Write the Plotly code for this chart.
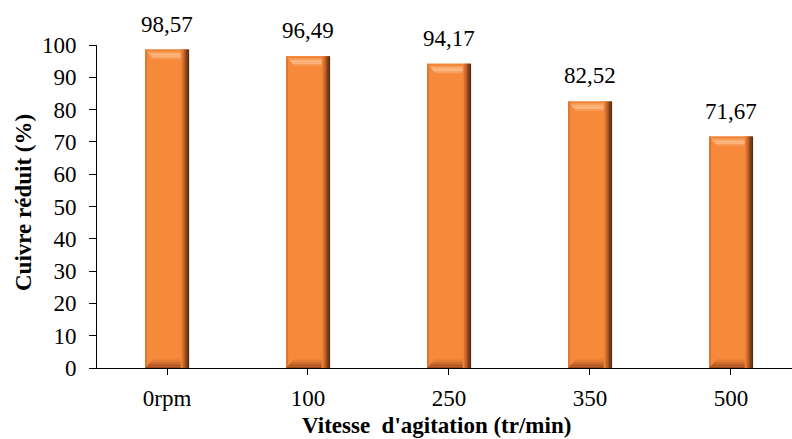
import numpy as np
import plotly.graph_objects as go

# Data
categories = ["0rpm", "100", "250", "350", "500"]
reduction = [98.57, 96.49, 94.17, 82.52, 71.67]

FONT = "'Times New Roman', 'Liberation Serif', serif"
FS = 23

xs = np.arange(len(categories), dtype=float)
vals = np.array(reduction)

hw = 0.155      # half bar width (x units)
bdx = 0.058     # bevel inset, horizontal
bdy = 2.9       # bevel depth, vertical


def polys(build):
    """Concatenate one polygon per bar, separated by None, for a fill='toself' trace."""
    px, py = [], []
    for x, v in zip(xs, vals):
        ptsx, ptsy = build(x, v)
        px += list(ptsx) + [ptsx[0], None]
        py += list(ptsy) + [ptsy[0], None]
    return px, py


def poly_trace(build, color):
    px, py = polys(build)
    return go.Scatter(x=px, y=py, mode="lines", fill="toself", fillcolor=color,
                      line=dict(width=0, color=color), hoverinfo="skip", showlegend=False)


fig = go.Figure()

# main body
fig.add_trace(poly_trace(lambda x, v: ([x - hw, x + hw, x + hw, x - hw], [0, 0, v, v]), "#F7893B"))
# left edge shading
fig.add_trace(poly_trace(lambda x, v: ([x - hw, x - hw + 0.014, x - hw + 0.014, x - hw], [0, 0, v, v]), "#DE7532"))

# top bevel: nested bands from the outer edge inwards
top_cols = ["#F08436", "#F7964E", "#FBAE72", "#FDBE8A", "#FCB47C", "#F99F5E"]
for k, c in enumerate(top_cols):
    t0, t1 = k / len(top_cols), (k + 1) / len(top_cols)
    fig.add_trace(poly_trace(lambda x, v, t0=t0, t1=t1: (
        [x - hw + bdx * t0, x + hw - bdx * t0, x + hw - bdx * t1, x - hw + bdx * t1],
        [v - bdy * t0, v - bdy * t0, v - bdy * t1, v - bdy * t1]), c))

# bottom bevel: darker bands
bot_cols = ["#9C4B1C", "#AE5622", "#C0622A", "#D06D30", "#DF7836", "#EC823A"]
for k, c in enumerate(bot_cols):
    t0, t1 = k / len(bot_cols), (k + 1) / len(bot_cols)
    fig.add_trace(poly_trace(lambda x, v, t0=t0, t1=t1: (
        [x - hw + bdx * t0, x + hw - bdx * t0, x + hw - bdx * t1, x - hw + bdx * t1],
        [bdy * t0, bdy * t0, bdy * t1, bdy * t1]), c))

# right edge gradient strips
right_cols = ["#EC843C", "#D97230", "#C06328", "#9C4E1F", "#773B16", "#5A2C10"]
rw = 0.058
sw = rw / len(right_cols)
for k, c in enumerate(right_cols):
    x0 = hw - rw + k * sw
    fig.add_trace(poly_trace(lambda x, v, x0=x0: ([x + x0, x + x0 + sw + 0.002, x + x0 + sw + 0.002, x + x0],
                                                 [0, 0, v, v]), c))

# value labels
for x, v in zip(xs, vals):
    fig.add_annotation(x=x, y=v, xref="x", yref="y", text=f"{v:.2f}".replace(".", ","),
                       showarrow=False, yanchor="bottom", yshift=11,
                       font=dict(family=FONT, size=FS, color="#000000"))

# axis titles
fig.add_annotation(xref="paper", yref="paper", x=(23 - 97) / 695, y=(368 - 203) / 323,
                   xanchor="center", yanchor="middle",
                   text="<b>Cuivre réduit (%)</b>", textangle=-90, showarrow=False,
                   font=dict(family=FONT, size=FS, color="#000000"))
fig.add_annotation(xref="paper", yref="paper", x=(436 - 97) / 695, y=(368 - 425) / 323,
                   xanchor="center", yanchor="middle",
                   text="<b>Vitesse\u00a0 d'agitation (tr/min)</b>", showarrow=False,
                   font=dict(family=FONT, size=FS, color="#000000"))

fig.update_layout(
    width=792, height=439,
    margin=dict(l=97, r=0, t=45, b=71),
    paper_bgcolor="white", plot_bgcolor="white",
    font=dict(family=FONT, size=FS, color="#000000"),
    showlegend=False,
)
fig.update_xaxes(range=[-0.4965, 4.433], tickmode="array", tickvals=xs, ticktext=categories,
                 showgrid=False, zeroline=False, showline=True, linecolor="#000000", linewidth=1,
                 ticks="outside", ticklen=6, tickcolor="#000000", ticklabelstandoff=3,
                 tickfont=dict(family=FONT, size=FS, color="#000000"))
fig.update_yaxes(range=[0, 100], tickmode="linear", tick0=0, dtick=10,
                 showgrid=False, zeroline=False, showline=True, linecolor="#000000", linewidth=1,
                 ticks="outside", ticklen=7, tickcolor="#000000", ticklabelstandoff=8,
                 tickfont=dict(family=FONT, size=FS, color="#000000"))

fig.write_html("out.html")
